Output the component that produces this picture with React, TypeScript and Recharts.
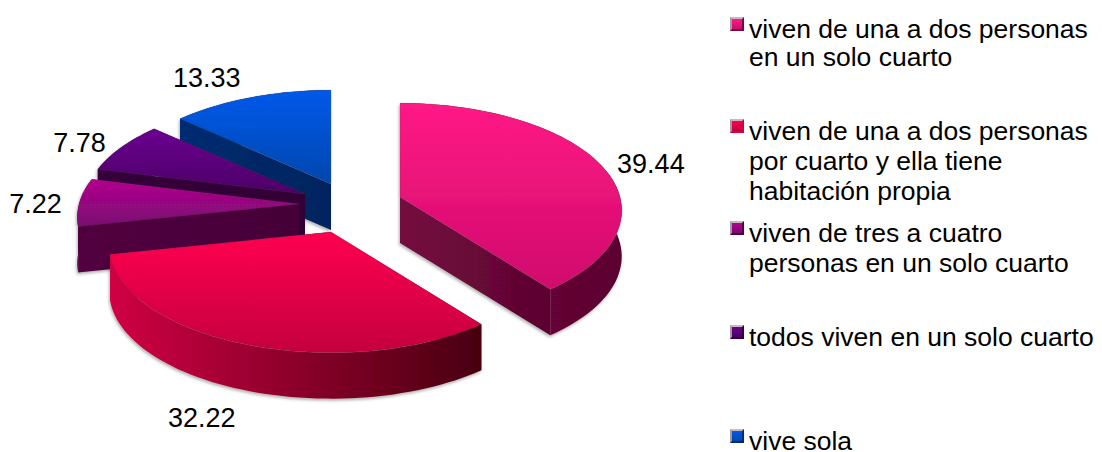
import { PieChart, Pie, Legend } from 'recharts'

const names = [
  'viven de una a dos personas en un solo cuarto',
  'viven de una a dos personas por cuarto y ella tiene habitación propia',
  'viven de tres a cuatro personas en un solo cuarto',
  'todos viven en un solo cuarto',
  'vive sola',
]
const values = [39.44, 32.22, 7.22, 7.78, 13.33]

const legendLines = [
  ['viven de una a dos personas', 'en un solo cuarto'],
  ['viven de una a dos personas', 'por cuarto y ella tiene', 'habitación propia'],
  ['viven de tres a cuatro', 'personas en un solo cuarto'],
  ['todos viven en un solo cuarto'],
  ['vive sola'],
]

// top from, top to, wall from, wall to
const PALETTE = [
  ['#ff1a85', '#d00a6c', '#74093f', '#5c052f'],
  ['#ff0050', '#c4003f', '#d00044', '#470010'],
  ['#b3038f', '#780a70', '#52003f', '#440038'],
  ['#6b0090', '#4c0066', '#37003c', '#300034'],
  ['#0059ea', '#0047ad', '#002c72', '#00245e'],
]

const WIDTH = 1102
const HEIGHT = 452
const CX = 330
const CY = 200
const RADIUS = 220
const DEPTH = 46
const FLATTEN = 0.48
const VIEW = 8 // viewer distance, in radii

// how far each slice is pulled out of the pie
const EXPLODE = [
  [70, -3],
  [1, 32],
  [-31, 4],
  [-25, -6],
  [1, -16],
]
const LABEL_SHIFT = [
  [51, 0],
  [-44, 74],
  [-44, 2],
  [-42, -4],
  [-44, -19],
]
const LEGEND_TOP = [19, 121, 223, 327, 431]
const LEGEND_STEP = [28, 30, 30, 30, 30]
const LEGEND_LINE = 20

const FONT = '"Liberation Sans", Arial, sans-serif'

const pieData = names
  .map((name, i) => ({ name, value: values[i], slot: i }))
  .reverse()

function project(cx: number, cy: number, r: number, angle: number) {
  const a = (angle * Math.PI) / 180
  const u = r * Math.cos(a)
  const v = -r * Math.sin(a)
  const s = VIEW / (VIEW - v / RADIUS)
  return [cx + u * s, cy + v * FLATTEN * s]
}

function arcPoints(cx: number, cy: number, r: number, from: number, to: number) {
  const n = Math.max(2, Math.ceil(Math.abs(to - from) / 2))
  const pts: number[][] = []
  for (let i = 0; i <= n; i++) pts.push(project(cx, cy, r, from + ((to - from) * i) / n))
  return pts
}

const toPath = (pts: number[][]) =>
  'M' + pts.map((p) => `${p[0].toFixed(1)},${p[1].toFixed(1)}`).join('L') + 'Z'

function Slice3D(props: any) {
  const { cx, cy, outerRadius, startAngle, endAngle, slot } = props
  const [ex, ey] = EXPLODE[slot]
  const ax = cx + ex
  const ay = cy + ey
  const arc = arcPoints(ax, ay, outerRadius, startAngle, endAngle)
  const first = arc[0]
  const last = arc[arc.length - 1]
  const drop = (p: number[]) => [p[0], p[1] + DEPTH]
  const apex = [ax, ay]
  const outer = [...arc, ...[...arc].reverse().map(drop)]
  return (
    <g filter="url(#sliceShadow)">
      <path d={toPath([apex, first, drop(first), drop(apex)])} fill={`url(#wall${slot})`} />
      <path d={toPath([apex, last, drop(last), drop(apex)])} fill={`url(#wall${slot})`} />
      <path d={toPath(outer)} fill={`url(#wall${slot})`} />
      <path
        d={toPath([apex, ...arc])}
        fill={`url(#top${slot})`}
        stroke="#5a4a55"
        strokeOpacity={0.3}
        strokeWidth={0.7}
      />
    </g>
  )
}

function renderLabel(props: any) {
  const { cx, cy, outerRadius, midAngle, slot, value } = props
  const [ex, ey] = EXPLODE[slot]
  const [x, y] = project(cx + ex, cy + ey, outerRadius, midAngle)
  return (
    <text
      x={x + LABEL_SHIFT[slot][0]}
      y={y + LABEL_SHIFT[slot][1]}
      textAnchor="middle"
      dominantBaseline="central"
      fill="#000"
      fontFamily={FONT}
      fontSize={27}
    >
      {value.toFixed(2)}
    </text>
  )
}

function LegendBlock() {
  return (
    <div style={{ position: 'relative', width: WIDTH, height: HEIGHT, fontFamily: FONT, fontSize: 26.5 }}>
      {legendLines.map((lines, i) => (
        <div key={names[i]} style={{ position: 'absolute', left: 730, top: LEGEND_TOP[i], color: '#000' }}>
          <span
            style={{
              position: 'absolute',
              left: 0,
              top: -2,
              width: 14,
              height: 14,
              boxSizing: 'border-box',
              background: `linear-gradient(${PALETTE[i][0]}, ${PALETTE[i][1]})`,
              border: `2px solid ${PALETTE[i][2]}`,
              borderTopColor: '#c9b6c2',
              borderLeftColor: '#a896a2',
            }}
          />
          {lines.map((line) => (
            <div
              key={line}
              style={{
                marginLeft: 19,
                height: LEGEND_LINE,
                lineHeight: `${LEGEND_LINE}px`,
                marginBottom: LEGEND_STEP[i] - LEGEND_LINE,
                whiteSpace: 'nowrap',
              }}
            >
              {line}
            </div>
          ))}
        </div>
      ))}
    </div>
  )
}

export default function App() {
  return (
    <div style={{ position: 'absolute', left: 0, top: 0 }}>
      <PieChart width={WIDTH} height={HEIGHT} margin={{ top: 0, right: 0, bottom: 0, left: 0 }}>
        <defs>
          <filter id="sliceShadow" x="-10%" y="-10%" width="120%" height="120%">
            <feDropShadow dx={-1} dy={2} stdDeviation={1.5} floodColor="#000" floodOpacity={0.3} />
          </filter>
          {PALETTE.map((c, i) => (
            <linearGradient key={`top${i}`} id={`top${i}`} x1="0" y1="0" x2="0" y2="1">
              <stop offset="0%" stopColor={c[0]} />
              <stop offset="100%" stopColor={c[1]} />
            </linearGradient>
          ))}
          {PALETTE.map((c, i) => (
            <linearGradient key={`wall${i}`} id={`wall${i}`} x1="0" y1="0" x2="1" y2="0">
              <stop offset="0%" stopColor={c[2]} />
              <stop offset="100%" stopColor={c[3]} />
            </linearGradient>
          ))}
        </defs>
        <Legend content={<LegendBlock />} wrapperStyle={{ left: 0, top: 0, width: WIDTH, height: HEIGHT }} />
        <Pie
          data={pieData}
          dataKey="value"
          nameKey="name"
          cx={CX}
          cy={CY}
          outerRadius={RADIUS}
          startAngle={90}
          endAngle={450}
          stroke="none"
          shape={Slice3D}
          label={renderLabel}
          labelLine={false}
          isAnimationActive={false}
        />
      </PieChart>
    </div>
  )
}
